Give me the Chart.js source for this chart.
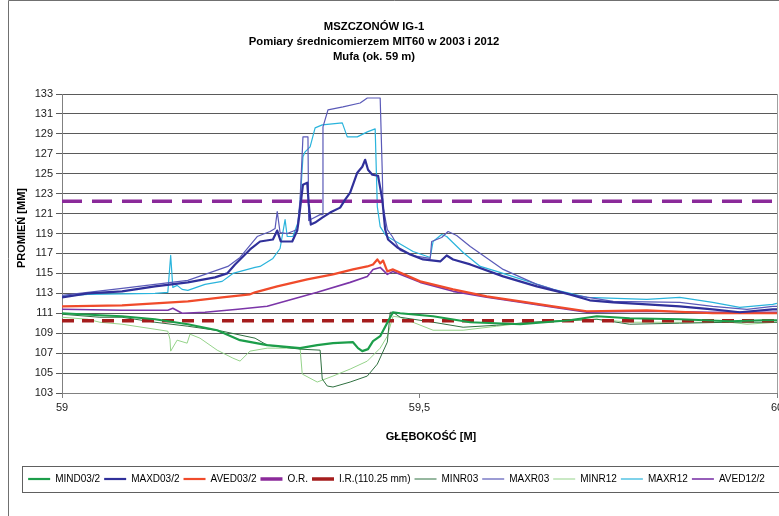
<!DOCTYPE html>
<html>
<head>
<meta charset="utf-8">
<script src="https://cdn.jsdelivr.net/npm/chart.js@4/dist/chart.umd.min.js"></script>
<style>
  html, body { margin: 0; padding: 0; background: #fff; }
  #wrap { width: 779px; height: 516px; }
</style>
</head>
<body>
<div id="wrap"><canvas id="chart" width="779" height="516"></canvas></div>
<script>
const mind03Depth = [59.000, 59.053, 59.084, 59.130, 59.176, 59.217, 59.249, 59.287, 59.333, 59.357, 59.379, 59.407, 59.414, 59.420, 59.428, 59.435, 59.445, 59.459, 59.463, 59.473, 59.519, 59.571, 59.641, 59.710, 59.748, 59.794, 59.864, 59.934, 59.980, 60.000];
const mind03Val = [111.0, 110.8, 110.7, 110.4, 109.9, 109.3, 108.3, 107.8, 107.5, 107.8, 108.0, 108.1, 107.5, 107.2, 107.4, 108.2, 108.7, 110.6, 111.1, 111.0, 110.7, 110.1, 109.9, 110.3, 110.7, 110.5, 110.4, 110.2, 110.3, 110.3];

const maxd03Depth = [59.000, 59.036, 59.084, 59.130, 59.176, 59.214, 59.231, 59.242, 59.263, 59.277, 59.295, 59.301, 59.306, 59.322, 59.329, 59.331, 59.337, 59.343, 59.345, 59.348, 59.354, 59.364, 59.375, 59.389, 59.396, 59.403, 59.413, 59.420, 59.424, 59.428, 59.434, 59.442, 59.448, 59.452, 59.456, 59.469, 59.487, 59.505, 59.529, 59.538, 59.547, 59.571, 59.617, 59.664, 59.710, 59.738, 59.771, 59.818, 59.864, 59.910, 59.948, 59.994, 60.000];
const maxd03Val = [112.6, 113.0, 113.2, 113.7, 114.1, 114.6, 115.0, 115.9, 117.4, 118.2, 118.4, 119.3, 118.2, 118.2, 119.3, 120.3, 123.9, 124.1, 122.0, 119.9, 120.1, 120.6, 121.1, 121.6, 122.4, 123.1, 125.1, 125.7, 126.4, 125.4, 124.9, 124.8, 122.4, 119.4, 118.4, 117.6, 116.9, 116.4, 116.2, 116.8, 116.4, 115.9, 114.7, 113.7, 112.9, 112.3, 112.1, 111.9, 111.7, 111.4, 111.1, 111.4, 111.4];

const aved03Depth = [59.000, 59.084, 59.130, 59.176, 59.224, 59.263, 59.270, 59.301, 59.343, 59.379, 59.407, 59.427, 59.435, 59.441, 59.445, 59.449, 59.455, 59.463, 59.501, 59.547, 59.594, 59.641, 59.687, 59.734, 59.818, 59.910, 60.000];
const aved03Val = [111.7, 111.8, 112.0, 112.2, 112.6, 112.9, 113.1, 113.7, 114.4, 114.9, 115.4, 115.7, 115.9, 116.4, 116.0, 116.3, 115.2, 115.4, 114.2, 113.4, 112.7, 112.2, 111.7, 111.2, 111.3, 111.0, 111.0];

const orDepth = [59, 60];
const orVal = [122.25, 122.25];
const irDepth = [59, 60];
const irVal = [110.25, 110.25];

const minr03Depth = [59.000, 59.053, 59.084, 59.130, 59.176, 59.224, 59.270, 59.287, 59.333, 59.361, 59.364, 59.371, 59.379, 59.403, 59.427, 59.441, 59.455, 59.459, 59.463, 59.473, 59.519, 59.561, 59.608, 59.655, 59.748, 59.794, 59.864, 59.934, 60.000];
const minr03Val = [110.9, 110.6, 110.6, 110.1, 109.7, 109.2, 108.5, 107.8, 107.4, 107.3, 104.4, 103.7, 103.6, 104.1, 104.7, 105.9, 108.1, 111.1, 111.1, 110.6, 110.1, 109.6, 109.8, 110.1, 110.4, 109.9, 110.0, 110.1, 110.1];

const maxr03Depth = [59.000, 59.084, 59.176, 59.232, 59.249, 59.273, 59.291, 59.298, 59.301, 59.305, 59.315, 59.329, 59.333, 59.337, 59.344, 59.345, 59.361, 59.364, 59.365, 59.372, 59.393, 59.417, 59.427, 59.445, 59.448, 59.449, 59.455, 59.462, 59.473, 59.497, 59.515, 59.517, 59.531, 59.540, 59.552, 59.571, 59.617, 59.664, 59.710, 59.771, 59.864, 59.910, 59.958, 59.994, 60.000];
const maxr03Val = [112.8, 113.5, 114.3, 115.7, 116.6, 118.7, 119.2, 119.5, 121.2, 119.1, 119.0, 119.4, 122.4, 128.7, 128.7, 120.3, 120.9, 120.9, 129.7, 131.4, 131.7, 132.1, 132.6, 132.6, 125.0, 121.7, 119.4, 118.7, 117.3, 116.7, 116.5, 118.2, 118.6, 119.2, 118.8, 117.7, 115.4, 113.9, 112.9, 112.2, 112.1, 111.7, 111.4, 111.7, 111.7];

const minr12Depth = [59.000, 59.036, 59.053, 59.084, 59.130, 59.148, 59.151, 59.152, 59.161, 59.175, 59.179, 59.193, 59.217, 59.239, 59.249, 59.263, 59.287, 59.333, 59.336, 59.357, 59.379, 59.403, 59.427, 59.445, 59.455, 59.463, 59.473, 59.519, 59.561, 59.608, 59.655, 59.748, 59.794, 59.934, 59.958, 60.000];
const minr12Val = [110.6, 110.4, 110.1, 109.9, 109.4, 109.2, 108.4, 107.2, 108.3, 108.0, 108.9, 108.5, 107.3, 106.5, 106.2, 107.2, 107.5, 107.5, 104.9, 104.1, 104.7, 105.4, 106.2, 107.5, 108.7, 110.7, 110.6, 109.3, 109.3, 109.7, 110.1, 110.4, 110.1, 110.1, 109.9, 110.1];

const maxr12Depth = [59.000, 59.036, 59.130, 59.148, 59.151, 59.152, 59.155, 59.161, 59.168, 59.176, 59.200, 59.224, 59.239, 59.270, 59.277, 59.295, 59.305, 59.312, 59.315, 59.323, 59.330, 59.333, 59.337, 59.340, 59.347, 59.354, 59.364, 59.392, 59.399, 59.413, 59.427, 59.438, 59.441, 59.445, 59.452, 59.455, 59.491, 59.515, 59.519, 59.531, 59.538, 59.561, 59.585, 59.608, 59.687, 59.734, 59.818, 59.864, 59.910, 59.948, 59.994, 60.000];
const maxr12Val = [112.7, 112.9, 113.0, 113.1, 115.9, 116.8, 113.6, 113.8, 113.4, 113.3, 113.9, 114.2, 115.0, 115.6, 115.7, 116.5, 117.5, 120.4, 118.7, 118.7, 120.1, 122.1, 126.7, 127.2, 127.7, 129.6, 129.9, 130.1, 128.7, 128.7, 129.2, 129.5, 121.7, 119.7, 118.9, 118.7, 117.2, 116.6, 118.2, 118.9, 118.7, 117.1, 115.7, 115.2, 113.4, 112.6, 112.4, 112.6, 112.1, 111.6, 111.9, 112.0];

const aved12Depth = [59.000, 59.084, 59.148, 59.155, 59.168, 59.200, 59.246, 59.287, 59.357, 59.403, 59.427, 59.435, 59.445, 59.455, 59.463, 59.501, 59.547, 59.594, 59.641, 59.687, 59.734, 59.818, 59.910, 60.000];
const aved12Val = [111.4, 111.3, 111.3, 111.5, 111.0, 111.1, 111.4, 111.7, 113.1, 114.1, 114.7, 115.4, 115.6, 114.9, 115.2, 114.1, 113.2, 112.6, 112.1, 111.6, 111.1, 111.2, 111.1, 111.1];

const xTicks = [59, 59.5, 60];

const pts = (ds, vs) => ds.map((d, i) => ({ x: d, y: vs[i] }));

function line(label, ds, vs, color, width, dash) {
  return {
    label: label,
    data: pts(ds, vs),
    borderColor: color,
    backgroundColor: color,
    borderWidth: width,
    borderDash: dash || [],
    pointRadius: 0,
    pointHoverRadius: 0,
    tension: 0,
    fill: false,
    borderJoinStyle: 'round'
  };
}

const font = 'Liberation Sans, Arial, sans-serif';

// title, axis titles, frames
const decor = {
  id: 'decor',
  afterDraw(chart) {
    const ctx = chart.ctx;
    const a = chart.chartArea;
    ctx.save();
    ctx.strokeStyle = '#a0a0a0';
    ctx.lineWidth = 1;
    ctx.beginPath();
    ctx.moveTo(Math.round(a.right) + 0.5, a.top);
    ctx.lineTo(Math.round(a.right) + 0.5, a.bottom);
    ctx.stroke();

    ctx.strokeStyle = '#707070';
    ctx.beginPath();
    ctx.moveTo(8.5, 520);
    ctx.lineTo(8.5, 0.5);
    ctx.lineTo(790, 0.5);
    ctx.stroke();

    const lg = chart.legend;
    ctx.strokeStyle = '#606060';
    ctx.strokeRect(22.5, Math.round(lg.top) - 3.5, 790, 26);

    ctx.fillStyle = '#000';
    ctx.textAlign = 'center';
    ctx.textBaseline = 'middle';
    ctx.font = 'bold 11.3px ' + font;
    ctx.fillText('MSZCZONÓW IG-1', 374, 27);
    ctx.fillText('Pomiary średnicomierzem MIT60 w 2003 i 2012', 374, 42);
    ctx.fillText('Mufa (ok. 59 m)', 374, 57);

    ctx.font = 'bold 11px ' + font;
    ctx.fillText('GŁĘBOKOŚĆ [M]', 431, 437);
    ctx.translate(22, 228);
    ctx.rotate(-Math.PI / 2);
    ctx.fillText('PROMIEŃ [MM]', 0, 0);
    ctx.restore();
  }
};

new Chart(document.getElementById('chart'), {
  type: 'line',
  data: {
    datasets: [
      line('MIND03/2', mind03Depth, mind03Val, '#1c9e4a', 2.2),
      line('MAXD03/2', maxd03Depth, maxd03Val, '#30309a', 2.2),
      line('AVED03/2', aved03Depth, aved03Val, '#f04b2b', 2.2),
      line('O.R.', orDepth, orVal, '#8b2a9a', 3.5, [20, 10]),
      line('I.R.(110.25 mm)', irDepth, irVal, '#a51d1d', 3.5, [12, 8]),
      line('MINR03', minr03Depth, minr03Val, '#2f7040', 1),
      line('MAXR03', maxr03Depth, maxr03Val, '#5a5ab8', 1.2),
      line('MINR12', minr12Depth, minr12Val, '#95d38a', 1),
      line('MAXR12', maxr12Depth, maxr12Val, '#2ab4dc', 1.2),
      line('AVED12/2', aved12Depth, aved12Val, '#7b35a8', 1.6)
    ]
  },
  options: {
    responsive: false,
    animation: false,
    events: [],
    layout: { padding: { top: 94, left: 16, right: 2, bottom: 22 } },
    scales: {
      x: {
        type: 'linear',
        min: 59,
        max: 60,
        afterBuildTicks: s => { s.ticks = xTicks.map(v => ({ value: v })); },
        afterFit: s => { s.height = 77; s.paddingLeft = 0; s.paddingRight = 0; },
        ticks: {
          color: '#222',
          padding: 3,
          maxRotation: 0,
          font: { family: font, size: 11 },
          callback: v => String(v).replace('.', ',')
        },
        grid: { drawOnChartArea: false, color: '#808080', tickLength: 5 },
        border: { color: '#808080' }
      },
      y: {
        min: 103,
        max: 133,
        afterFit: s => { s.width = 46; },
        ticks: {
          stepSize: 2,
          color: '#222',
          padding: 3,
          font: { family: font, size: 11 }
        },
        grid: { color: '#5a5a5a', tickLength: 6 },
        border: { color: '#808080' }
      }
    },
    plugins: {
      title: { display: false },
      tooltip: { enabled: false },
      legend: {
        position: 'bottom',
        labels: {
          color: '#000',
          font: { family: font, size: 10 },
          usePointStyle: true,
          pointStyle: 'line',
          pointStyleWidth: 22,
          padding: 4
        }
      }
    }
  },
  plugins: [decor]
});
</script>
</body>
</html>
